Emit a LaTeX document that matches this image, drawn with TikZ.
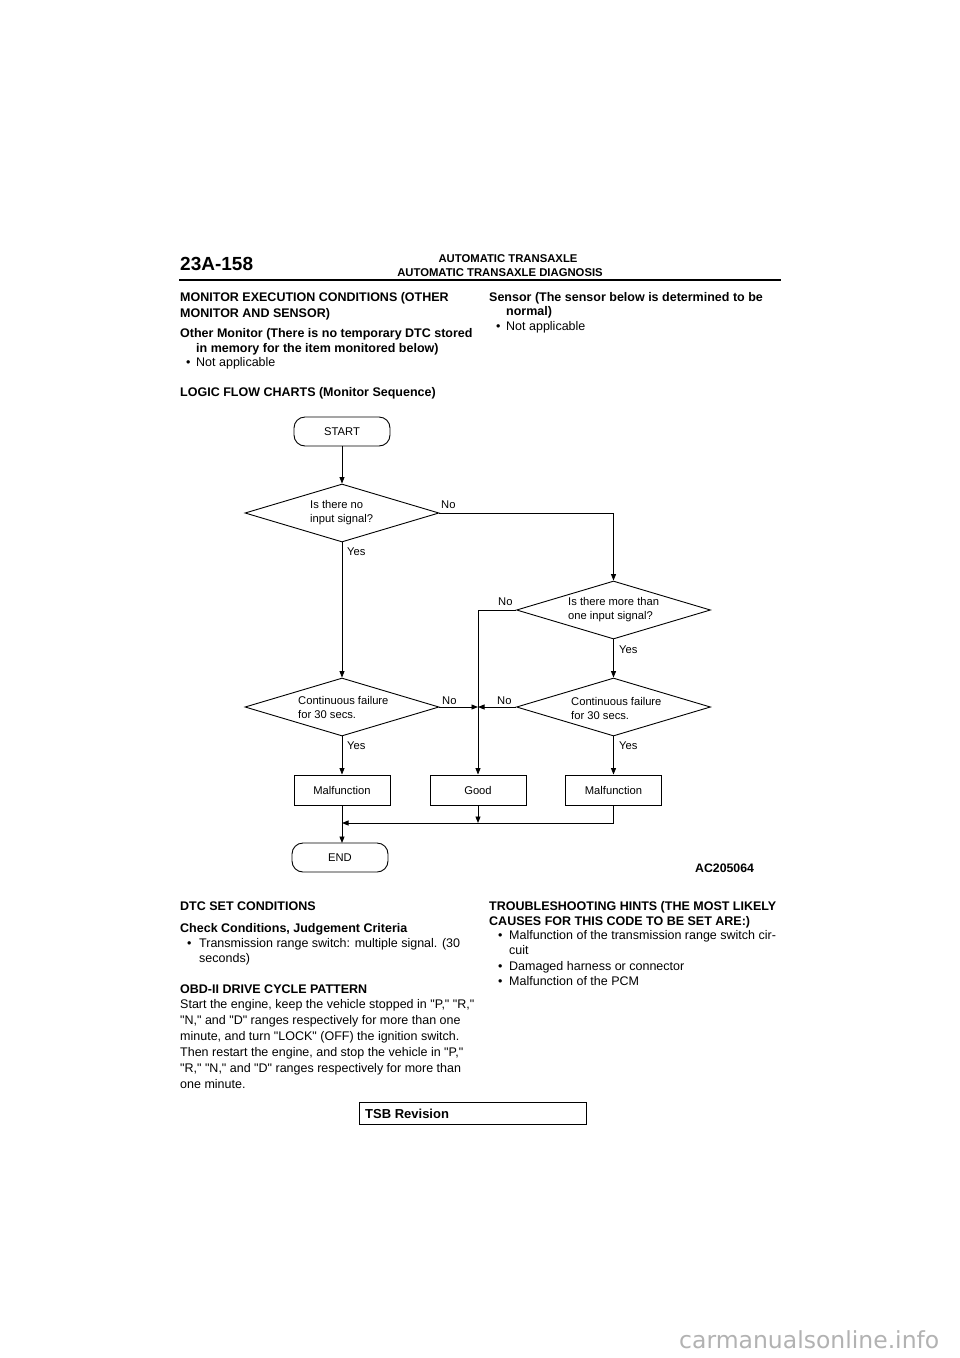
\documentclass[tikz,border=0pt]{standalone}
\usepackage{fontspec}
\setmainfont{Liberation Sans}[Ligatures=TeXOff]
\newfontfamily\wmfont{DejaVu Sans}
\usetikzlibrary{shapes.geometric,arrows.meta}
\tikzset{
  body/.style={anchor=base west, inner sep=0pt, font=\fontsize{12.5}{16}\selectfont},
  bodyb/.style={anchor=base west, inner sep=0pt, font=\fontsize{12.5}{16}\selectfont\bfseries},
  fc/.style={font=\fontsize{11.2}{14}\selectfont},
  fctext/.style={fc, anchor=west, align=left, inner sep=0pt},
  lbl/.style={fc, anchor=base west, inner sep=0pt},
  dia/.style={draw, diamond, minimum width=194pt, minimum height=58pt, inner sep=0pt, line width=0.9pt},
  fbox/.style={draw, rectangle, minimum width=96pt, minimum height=30pt, inner sep=0pt, line width=0.9pt, fc},
  term/.style={draw, rectangle, rounded corners=11pt, minimum width=96pt, minimum height=29pt, inner sep=0pt, line width=0.9pt, fc},
  conn/.style={line width=0.9pt},
  arr/.style={line width=0.9pt, -{Triangle[length=6.5pt,width=5pt]}},
}
\begin{document}
\begin{tikzpicture}[x=1pt,y=-1pt]
\useasboundingbox (0,0) rectangle (960,1358);
\fill[white] (0,0) rectangle (960,1358);

% header
\node[anchor=base west, inner sep=0pt, font=\fontsize{19}{22}\selectfont\bfseries] (pg) at (180,270) {23A-158};
\node[anchor=base, inner sep=0pt, font=\fontsize{11.3}{13}\selectfont\bfseries] (h1) at (508,262) {AUTOMATIC TRANSAXLE};
\node[anchor=base, inner sep=0pt, font=\fontsize{11.3}{13}\selectfont\bfseries] (h2) at (500,276) {AUTOMATIC TRANSAXLE DIAGNOSIS};
\draw[line width=2pt] (179,279.5) -- (781,279.5);

% top text
\node[bodyb] (t1) at (180,301) {MONITOR EXECUTION CONDITIONS (OTHER};
\node[bodyb] (t2) at (180,317) {MONITOR AND SENSOR)};
\node[bodyb] (t3) at (180,337) {Other Monitor (There is no temporary DTC stored};
\node[bodyb] (t4) at (196,352) {in memory for the item monitored below)};
\node[body] (t5b) at (186,366) {•};
\node[body] (t5) at (196,366) {Not applicable};
\node[bodyb] (t6) at (180,396) {LOGIC FLOW CHARTS (Monitor Sequence)};
\node[bodyb] (r1) at (489,301) {Sensor (The sensor below is determined to be};
\node[bodyb] (r2) at (506,315) {normal)};
\node[body] (r3b) at (496,330) {•};
\node[body] (r3) at (506,330) {Not applicable};

% flowchart
\node[term] (start) at (342,431.5) {START};
\node[dia] (d1) at (342,513) {};
\node[fctext] (d1t) at (310,513) {Is there no\\input signal?};
\node[dia] (d2) at (613.5,610) {};
\node[fctext] (d2t) at (568,610) {Is there more than\\one input signal?};
\node[dia] (d3) at (342,707) {};
\node[fctext] (d3t) at (298,707) {Continuous failure\\for 30 secs.};
\node[dia] (d4) at (613.5,707) {};
\node[fctext] (d4t) at (571,708) {Continuous failure\\for 30 secs.};
\node[fbox] (m1) at (342,790) {Malfunction};
\node[fbox] (good) at (478,790) {Good};
\node[fbox] (m2) at (613.5,790) {Malfunction};
\node[term] (end) at (340,857.5) {END};
\coordinate (j) at (478,707);
\coordinate (g) at (478,823);
\coordinate (m) at (342,823);
\coordinate (e) at (342,843);

\draw[arr] (start.south) -- (d1.north);
\draw[arr] (d1.east) -| (d2.north);
\draw[arr] (d1.south) -- (d3.north);
\draw[arr] (d2.west) -| (good.north);
\draw[arr] (d2.south) -- (d4.north);
\draw[arr] (d3.east) -- (j);
\draw[arr] (d4.west) -- (j);
\draw[arr] (d3.south) -- (m1.north);
\draw[arr] (d4.south) -- (m2.north);
\draw[arr] (good.south) -- (g);
\draw[arr] (m2.south) |- (m);
\draw[arr] (m1.south) -- (e);

\node[lbl] (no1) at (441,508) {No};
\node[lbl] (yes1) at (347,555) {Yes};
\node[lbl] (no2) at (498,605) {No};
\node[lbl] (yes2) at (619,653) {Yes};
\node[lbl] (no3) at (442,704) {No};
\node[lbl] (no4) at (497,704) {No};
\node[lbl] (yes3) at (347,749) {Yes};
\node[lbl] (yes4) at (619,749) {Yes};
\node[anchor=base west, inner sep=0pt, font=\fontsize{12.3}{14}\selectfont\bfseries] (ac) at (695,872) {AC205064};

% bottom text
\node[bodyb] (b1) at (180,910) {DTC SET CONDITIONS};
\node[bodyb] (b2) at (180,932) {Check Conditions, Judgement Criteria};
\node[body] (b3b) at (187,947) {•};
\node[body] (b3) at (199,947) {Transmission range switch: multiple signal. (30};
\node[body] (b4) at (199,962) {seconds)};
\node[bodyb] (b5) at (180,993) {OBD-II DRIVE CYCLE PATTERN};
\node[body] (b6) at (180,1008) {Start the engine, keep the vehicle stopped in "P," "R,"};
\node[body] (b7) at (180,1024) {"N," and "D" ranges respectively for more than one};
\node[body] (b8) at (180,1040) {minute, and turn "LOCK" (OFF) the ignition switch.};
\node[body] (b9) at (180,1056) {Then restart the engine, and stop the vehicle in "P,"};
\node[body] (b10) at (180,1072) {"R," "N," and "D" ranges respectively for more than};
\node[body] (b11) at (180,1088) {one minute.};

\node[bodyb] (s1) at (489,910) {TROUBLESHOOTING HINTS (THE MOST LIKELY};
\node[bodyb] (s2) at (489,925) {CAUSES FOR THIS CODE TO BE SET ARE:)};
\node[body] (s3b) at (498,939) {•};
\node[body] (s3) at (509,939) {Malfunction of the transmission range switch cir-};
\node[body] (s4) at (509,954) {cuit};
\node[body] (s5b) at (498,970) {•};
\node[body] (s5) at (509,970) {Damaged harness or connector};
\node[body] (s6b) at (498,985) {•};
\node[body] (s6) at (509,985) {Malfunction of the PCM};

% TSB revision box
\draw[line width=0.8pt] (359,1102) rectangle (586,1124);
\node[anchor=base west, inner sep=0pt, font=\fontsize{13}{15}\selectfont\bfseries] (tsb) at (365,1118) {TSB Revision};

% watermark
\node[anchor=base west, inner sep=0pt, text=black!30, font=\wmfont\fontsize{23.5}{26}\selectfont] (wm) at (679,1348) {carmanualsonline.info};
\end{tikzpicture}
\end{document}
